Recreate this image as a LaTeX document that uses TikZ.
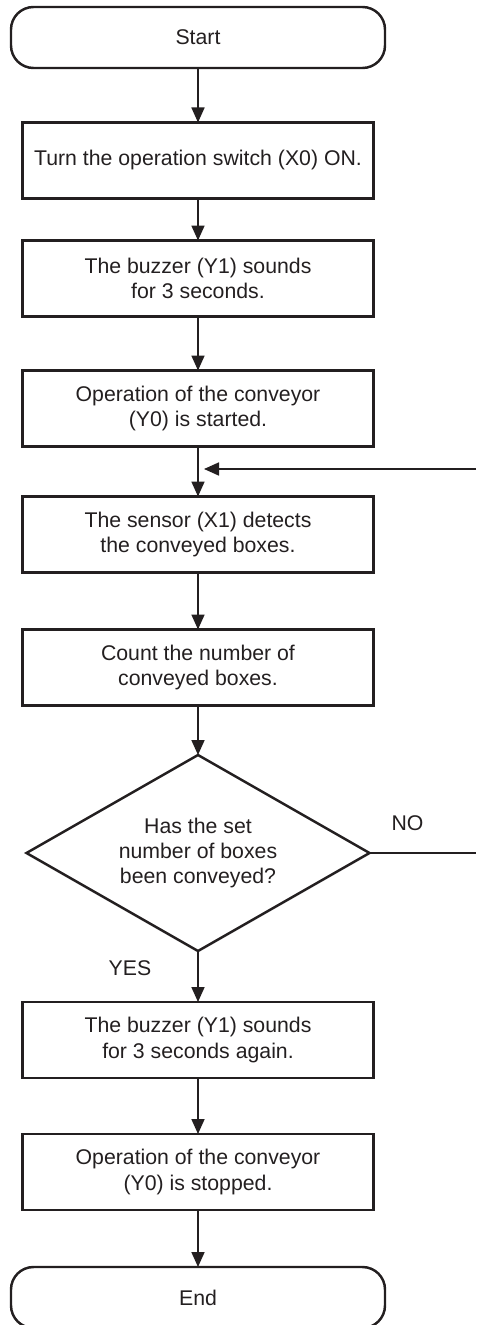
\documentclass[tikz,border=0pt]{standalone}
\usepackage{fontspec}
\setmainfont{Liberation Sans}
\usepackage{tikz}
\usetikzlibrary{calc,arrows.meta,positioning,shapes.geometric}
\definecolor{ink}{HTML}{231F20}
\tikzset{
  term/.style={draw=ink,line width=1.4pt,rounded corners=0.45cm,minimum width=7.48cm,minimum height=1.22cm,inner sep=0pt,outer sep=0pt},
  proc/.style={draw=ink,line width=1.4pt,minimum width=7.02cm,minimum height=1.52cm,align=center,inner sep=2pt,outer sep=0pt},
  decis/.style={diamond,draw=ink,line width=1.4pt,aspect=1.75,minimum width=6.86cm,minimum height=3.92cm,inner sep=0pt,outer sep=0pt,align=center},
  ar/.style={-{Triangle[length=0.3cm,width=0.26cm]},line width=1pt,ink},
  ln/.style={line width=1pt,ink}
}

\begin{document}
\begin{tikzpicture}[font=\fontsize{12.1pt}{14.4pt}\selectfont,text=ink]
\useasboundingbox (-3.96,0.75) rectangle (5.56,-25.75);
\coordinate (br) at (5.56,-25.75);
\node[term] (st) at (0,0) {Start};
\node[proc,below=1.09cm of st] (s1) {Turn the operation switch (X0) ON.};
\node[proc,below=0.84cm of s1] (s2) {The buzzer (Y1) sounds\\for 3 seconds.};
\node[proc,below=1.08cm of s2] (s3) {Operation of the conveyor\\(Y0) is started.};
\node[proc,below=1.0cm of s3] (s4) {The sensor (X1) detects\\the conveyed boxes.};
\node[proc,below=1.14cm of s4] (s5) {Count the number of\\conveyed boxes.};
\node[decis,below=0.99cm of s5] (ask) {Has the set\\number of boxes\\been conveyed?};
\node[proc,below=1.02cm of ask] (s6) {The buzzer (Y1) sounds\\for 3 seconds again.};
\node[proc,below=1.12cm of s6] (s7) {Operation of the conveyor\\(Y0) is stopped.};
\node[term,below=1.14cm of s7] (en) {End};
\foreach \u/\v in {st/s1,s1/s2,s2/s3,s3/s4,s4/s5,s5/ask,ask/s6,s6/s7,s7/en}{\draw[ar] (\u)--(\v);}
% loop back (runs off the right edge)
\coordinate (lp) at ($(s3.south)!0.45!(s4.north)$);
\draw[ln] (ask.east) -- (ask.east -| br);
\draw[ar] (lp -| br) -- ([xshift=0.12cm]lp);
\node (no) at ([xshift=0.76cm,yshift=0.6cm]ask.east) {NO};
\node (yes) at ([xshift=-1.36cm,yshift=-0.34cm]ask.south) {YES};
\end{tikzpicture}
\end{document}
